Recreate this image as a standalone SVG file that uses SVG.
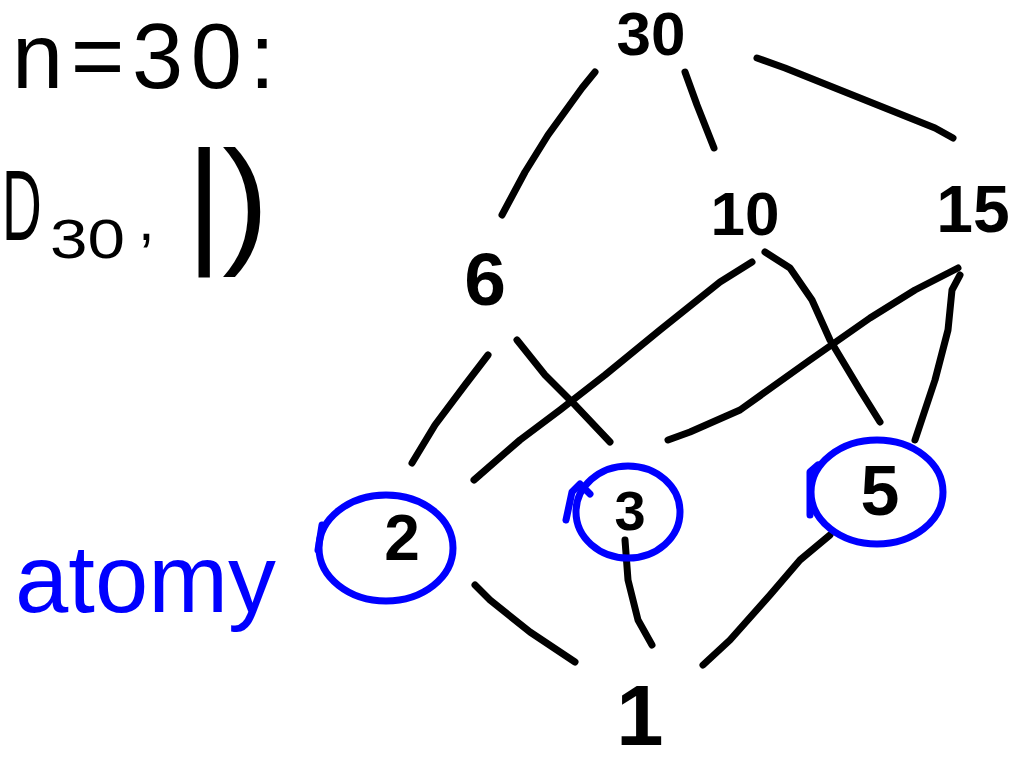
<svg xmlns="http://www.w3.org/2000/svg" width="1028" height="764" viewBox="0 0 1028 764">
<style>
.ink{fill:none;stroke:#000;stroke-width:7;stroke-linecap:round;stroke-linejoin:round}
.blue{fill:none;stroke:#0000ff;stroke-width:7;stroke-linecap:round;stroke-linejoin:round}
.t{font-family:"Liberation Sans","DejaVu Sans",sans-serif;fill:#000}
.n{font-family:"Liberation Sans","DejaVu Sans",sans-serif;fill:#000;font-weight:bold;text-anchor:middle}
.tb{font-family:"Liberation Sans","DejaVu Sans",sans-serif;fill:#0000ff}
</style>
<rect width="1028" height="764" fill="#fff"/>
<g id="title">
<text class="t" x="12" y="88" font-size="92" textLength="263" lengthAdjust="spacing">n=30:</text>
<text class="t" transform="translate(2,240) scale(0.55,1)" font-size="100">D</text>
<text class="t" x="50" y="258" font-size="56" textLength="75" lengthAdjust="spacingAndGlyphs">30</text>
<text class="t" x="138" y="240" font-size="60">,</text>
<text class="t" x="186" y="248" font-size="140">|)</text>
</g>
<g id="label-atomy">
<text class="tb" x="15" y="612" font-size="96" textLength="261" lengthAdjust="spacingAndGlyphs">atomy</text>
</g>
<g id="connectors">
<polyline class="ink" points="595,72 582,88 548,135 525,172 502,215"/>
<polyline class="ink" points="685,72 697,105 714,148"/>
<polyline class="ink" points="757,58 785,68 800,74 935,128 953,138"/>
<polyline class="ink" points="488,355 465,385 435,425 412,463"/>
<polyline class="ink" points="517,340 545,375 575,405 610,442"/>
<polyline class="ink" points="752,262 720,282 660,330 605,375 560,410 520,440 474,480"/>
<polyline class="ink" points="765,252 790,268 812,300 830,340 860,390 880,422"/>
<polyline class="ink" points="958,268 915,290 870,318 810,360 740,410 690,432 668,440"/>
<polyline class="ink" points="960,275 952,290 948,330 935,380 925,410 915,440"/>
<polyline class="ink" points="475,585 490,600 530,632 575,662"/>
<polyline class="ink" points="625,540 628,580 638,620 652,645"/>
<polyline class="ink" points="830,535 800,560 770,595 730,640 703,665"/>
</g>
<g id="node-30"><text class="n" x="651" y="55" font-size="62">30</text></g>
<g id="node-10"><text class="n" x="745" y="235" font-size="62">10</text></g>
<g id="node-15"><text class="n" x="973" y="232" font-size="66">15</text></g>
<g id="node-6"><text class="n" x="485" y="305" font-size="75">6</text></g>
<g id="node-2">
<ellipse class="blue" cx="386" cy="548" rx="67" ry="53"/>
<polyline class="blue" points="322,525 318,550"/>
<text class="n" x="402" y="560" font-size="64">2</text>
</g>
<g id="node-3">
<ellipse class="blue" cx="628" cy="512" rx="52" ry="46"/>
<polyline class="blue" points="566,520 572,492 580,484 590,494"/>
<text class="n" x="630" y="530" font-size="56">3</text>
</g>
<g id="node-5">
<ellipse class="blue" cx="877" cy="492" rx="66" ry="52"/>
<polyline class="blue" points="818,465 810,472 810,515"/>
<text class="n" x="880" y="515" font-size="70">5</text>
</g>
<g id="node-1"><text class="n" x="640" y="745" font-size="85">1</text></g>
</svg>
